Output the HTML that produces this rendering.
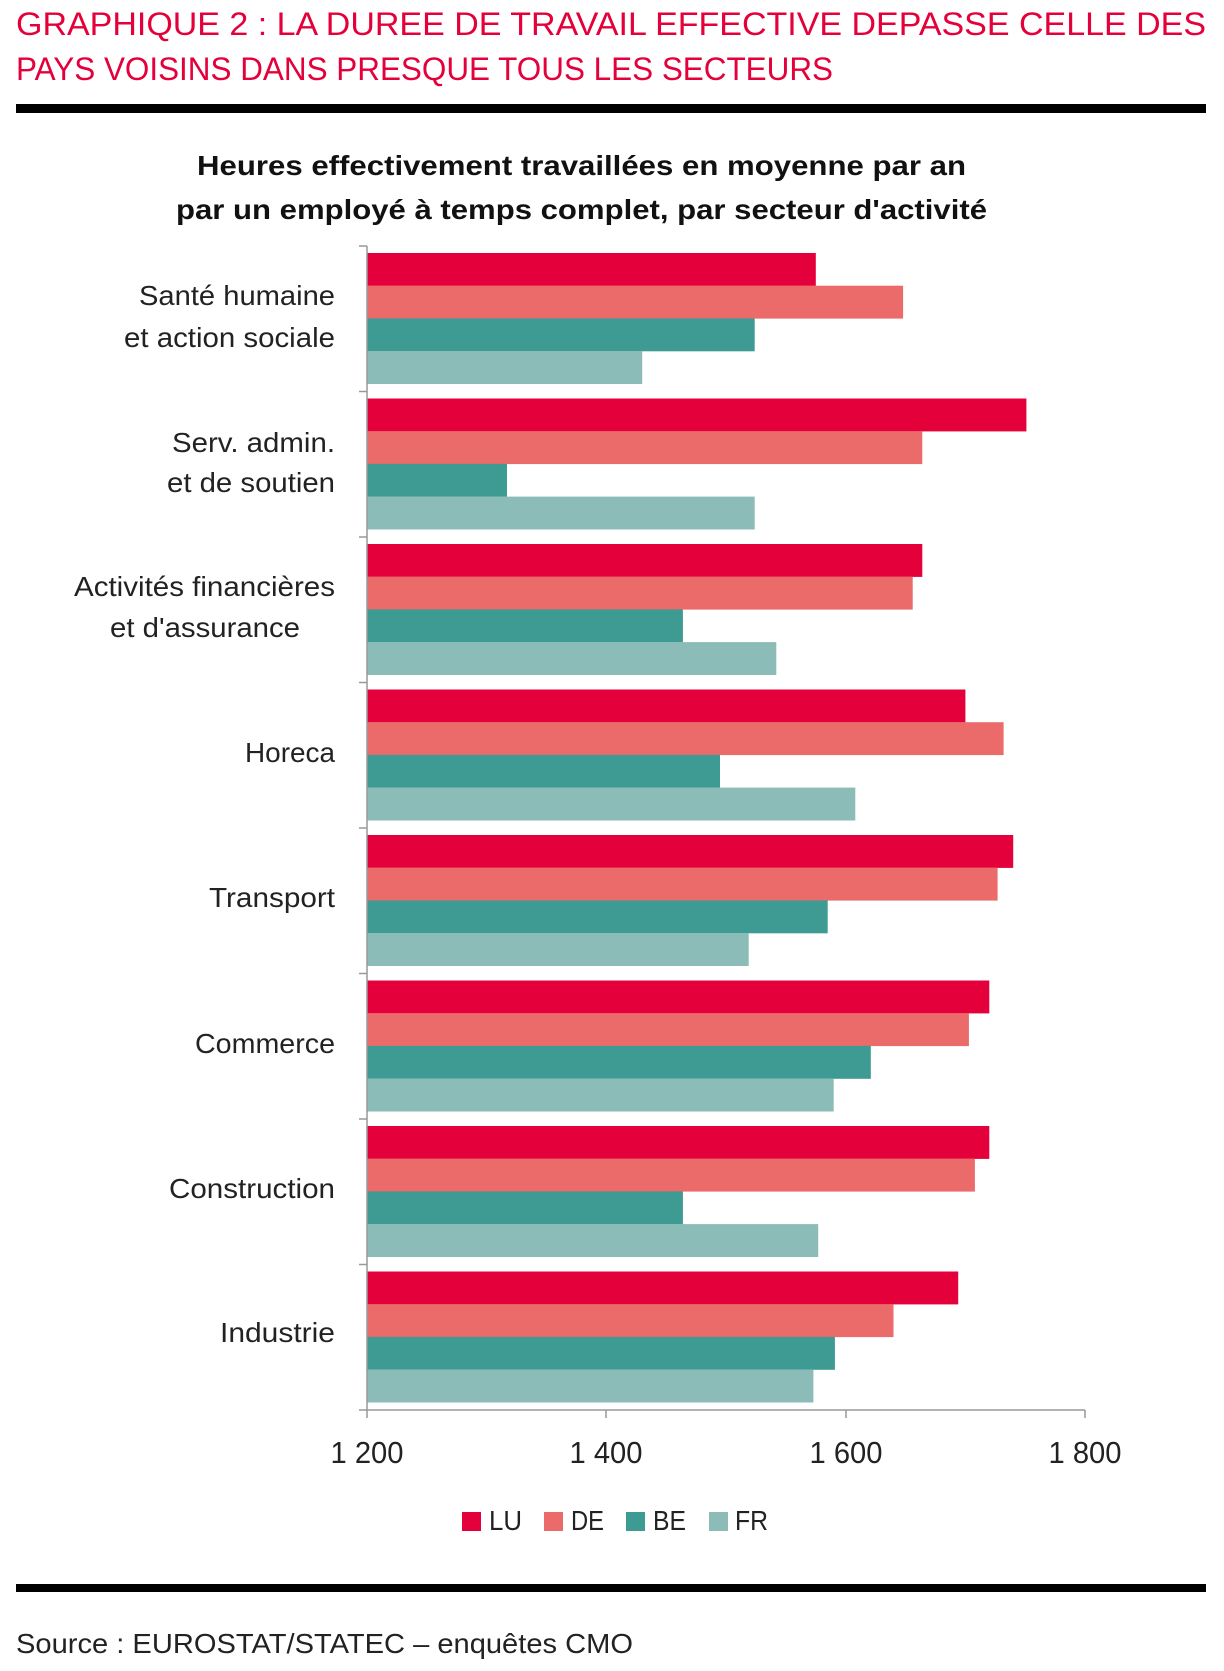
<!DOCTYPE html>
<html><head><meta charset="utf-8"><style>
html,body{margin:0;padding:0;background:#fff;}
svg{display:block;}
text{font-family:"Liberation Sans",sans-serif;}
</style></head><body>
<svg width="1224" height="1671" viewBox="0 0 1224 1671" xmlns="http://www.w3.org/2000/svg">
<g fill="#e4003a" font-size="32">
<text x="16" y="35" textLength="1190" lengthAdjust="spacingAndGlyphs">GRAPHIQUE 2 : LA DUREE DE TRAVAIL EFFECTIVE DEPASSE CELLE DES</text>
<text x="16" y="80" textLength="817" lengthAdjust="spacingAndGlyphs">PAYS VOISINS DANS PRESQUE TOUS LES SECTEURS</text>
</g>
<rect x="16" y="104" width="1190" height="9" fill="#000"/>
<g fill="#111" font-size="28" font-weight="bold">
<text x="197" y="175" textLength="769" lengthAdjust="spacingAndGlyphs">Heures effectivement travaillées en moyenne par an</text>
<text x="176" y="219" textLength="811" lengthAdjust="spacingAndGlyphs">par un employé à temps complet, par secteur d'activité</text>
</g>
<g>
<rect x="367" y="253" width="448.8" height="32.9" fill="#e4003a"/>
<rect x="367" y="285.7" width="536.1" height="32.9" fill="#eb6a6a"/>
<rect x="367" y="318.4" width="387.7" height="32.9" fill="#3e9b94"/>
<rect x="367" y="351.1" width="275.2" height="32.9" fill="#8bbcb8"/>
<rect x="367" y="398.5" width="659.4" height="32.9" fill="#e4003a"/>
<rect x="367" y="431.2" width="555.3" height="32.9" fill="#eb6a6a"/>
<rect x="367" y="463.9" width="140.0" height="32.9" fill="#3e9b94"/>
<rect x="367" y="496.6" width="387.7" height="32.9" fill="#8bbcb8"/>
<rect x="367" y="544" width="555.3" height="32.9" fill="#e4003a"/>
<rect x="367" y="576.7" width="545.7" height="32.9" fill="#eb6a6a"/>
<rect x="367" y="609.4" width="315.9" height="32.9" fill="#3e9b94"/>
<rect x="367" y="642.1" width="409.3" height="32.9" fill="#8bbcb8"/>
<rect x="367" y="689.5" width="598.4" height="32.9" fill="#e4003a"/>
<rect x="367" y="722.2" width="636.6" height="32.9" fill="#eb6a6a"/>
<rect x="367" y="754.9" width="353" height="32.9" fill="#3e9b94"/>
<rect x="367" y="787.6" width="488.3" height="32.9" fill="#8bbcb8"/>
<rect x="367" y="835" width="646.2" height="32.9" fill="#e4003a"/>
<rect x="367" y="867.7" width="630.6" height="32.9" fill="#eb6a6a"/>
<rect x="367" y="900.4" width="460.7" height="32.9" fill="#3e9b94"/>
<rect x="367" y="933.1" width="381.7" height="32.9" fill="#8bbcb8"/>
<rect x="367" y="980.5" width="622.3" height="32.9" fill="#e4003a"/>
<rect x="367" y="1013.2" width="601.9" height="32.9" fill="#eb6a6a"/>
<rect x="367" y="1045.9" width="503.8" height="32.9" fill="#3e9b94"/>
<rect x="367" y="1078.6" width="466.7" height="32.9" fill="#8bbcb8"/>
<rect x="367" y="1126" width="622.3" height="32.9" fill="#e4003a"/>
<rect x="367" y="1158.7" width="607.9" height="32.9" fill="#eb6a6a"/>
<rect x="367" y="1191.4" width="315.9" height="32.9" fill="#3e9b94"/>
<rect x="367" y="1224.1" width="451.2" height="32.9" fill="#8bbcb8"/>
<rect x="367" y="1271.5" width="591.2" height="32.9" fill="#e4003a"/>
<rect x="367" y="1304.2" width="526.5" height="32.9" fill="#eb6a6a"/>
<rect x="367" y="1336.9" width="467.9" height="32.9" fill="#3e9b94"/>
<rect x="367" y="1369.6" width="446.4" height="32.9" fill="#8bbcb8"/>
</g>
<g stroke="#999" stroke-width="1.5">
<line x1="359" y1="246" x2="367" y2="246"/>
<line x1="359" y1="391.5" x2="367" y2="391.5"/>
<line x1="359" y1="537" x2="367" y2="537"/>
<line x1="359" y1="682.5" x2="367" y2="682.5"/>
<line x1="359" y1="828" x2="367" y2="828"/>
<line x1="359" y1="973.5" x2="367" y2="973.5"/>
<line x1="359" y1="1119" x2="367" y2="1119"/>
<line x1="359" y1="1264.5" x2="367" y2="1264.5"/>
<line x1="367" y1="246" x2="367" y2="1410"/>
<line x1="359" y1="1410" x2="1085" y2="1410"/>
<line x1="367" y1="1410" x2="367" y2="1418"/>
<line x1="606" y1="1410" x2="606" y2="1418"/>
<line x1="846" y1="1410" x2="846" y2="1418"/>
<line x1="1085" y1="1410" x2="1085" y2="1418"/>
</g>
<g fill="#222" font-size="28" text-anchor="end">
<text x="335" y="305" textLength="196" lengthAdjust="spacingAndGlyphs">Santé humaine</text>
<text x="335" y="347" textLength="211" lengthAdjust="spacingAndGlyphs">et action sociale</text>
<text x="335" y="452" textLength="163" lengthAdjust="spacingAndGlyphs">Serv. admin.</text>
<text x="335" y="492" textLength="168" lengthAdjust="spacingAndGlyphs">et de soutien</text>
<text x="335" y="596" textLength="261" lengthAdjust="spacingAndGlyphs">Activités financières</text>
<text x="300" y="637" textLength="190" lengthAdjust="spacingAndGlyphs">et d'assurance</text>
<text x="335" y="762" textLength="90" lengthAdjust="spacingAndGlyphs">Horeca</text>
<text x="335" y="907" textLength="126" lengthAdjust="spacingAndGlyphs">Transport</text>
<text x="335" y="1053" textLength="140" lengthAdjust="spacingAndGlyphs">Commerce</text>
<text x="335" y="1198" textLength="166" lengthAdjust="spacingAndGlyphs">Construction</text>
<text x="335" y="1342" textLength="115" lengthAdjust="spacingAndGlyphs">Industrie</text>
</g>
<g fill="#222" font-size="31" text-anchor="middle">
<text x="367" y="1463" textLength="73" lengthAdjust="spacingAndGlyphs">1 200</text>
<text x="606" y="1463" textLength="73" lengthAdjust="spacingAndGlyphs">1 400</text>
<text x="846" y="1463" textLength="73" lengthAdjust="spacingAndGlyphs">1 600</text>
<text x="1085" y="1463" textLength="73" lengthAdjust="spacingAndGlyphs">1 800</text>
</g>
<g font-size="28" fill="#222">
<rect x="462" y="1512" width="19" height="19" fill="#e4003a"/><text x="489" y="1530" textLength="33" lengthAdjust="spacingAndGlyphs">LU</text>
<rect x="544" y="1512" width="19" height="19" fill="#eb6a6a"/><text x="571" y="1530" textLength="33" lengthAdjust="spacingAndGlyphs">DE</text>
<rect x="626" y="1512" width="19" height="19" fill="#3e9b94"/><text x="653" y="1530" textLength="33" lengthAdjust="spacingAndGlyphs">BE</text>
<rect x="709" y="1512" width="19" height="19" fill="#8bbcb8"/><text x="735" y="1530" textLength="33" lengthAdjust="spacingAndGlyphs">FR</text>
</g>
<rect x="16" y="1584" width="1190" height="8" fill="#000"/>
<text x="16" y="1653" font-size="28" fill="#222" textLength="617" lengthAdjust="spacingAndGlyphs">Source : EUROSTAT/STATEC – enquêtes CMO</text>
</svg>
</body></html>
